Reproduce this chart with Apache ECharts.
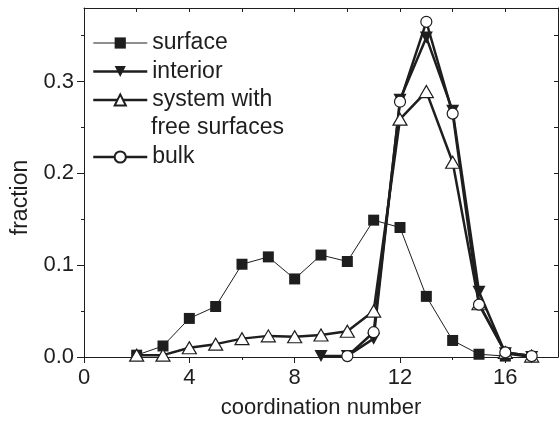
<!DOCTYPE html>
<html>
<head>
<meta charset="utf-8">
<script src="https://cdn.jsdelivr.net/npm/echarts@6/dist/echarts.min.js"></script>
<style>
html,body{margin:0;padding:0;background:#fff;}
#chart{width:559px;height:424px;}
</style>
</head>
<body>
<div id="chart"></div>
<script>
// ---- data ----
const surfaceX = [2, 3, 4, 5, 6, 7, 8, 9, 10, 11, 12, 13, 14, 15, 16];
const surfaceY = [0.002, 0.012, 0.042, 0.055, 0.101, 0.109, 0.085, 0.111, 0.104, 0.149, 0.141, 0.066, 0.018, 0.003, 0.001];
const interiorX = [9, 10, 11, 12, 13, 14, 15, 16, 17];
const interiorY = [0.001, 0.001, 0.020, 0.280, 0.348, 0.268, 0.071, 0.004, 0.000];
const systemX = [2, 3, 4, 5, 6, 7, 8, 9, 10, 11, 12, 13, 14, 15, 16, 17];
const systemY = [0.002, 0.002, 0.010, 0.014, 0.020, 0.023, 0.022, 0.024, 0.028, 0.050, 0.259, 0.289, 0.212, 0.058, 0.005, 0.001];
const bulkX = [10, 11, 12, 13, 14, 15, 16, 17];
const bulkY = [0.001, 0.027, 0.278, 0.365, 0.265, 0.057, 0.005, 0.001];

const xMajorTicks = [0, 4, 8, 12, 16];
const xMinorTicks = [2, 6, 10, 14];
const xTopTicks = [2, 4, 6, 8, 10, 12, 14, 16];
const yMajorTicks = [0, 0.1, 0.2, 0.3];
const yMinorTicks = [0.05, 0.15, 0.25, 0.35];
const yRightTicks = [0.05, 0.1, 0.15, 0.2, 0.25, 0.3, 0.35];
const seriesNames = ['surface', 'interior', 'system with free surfaces', 'bulk'];

const zip = (xs, ys) => xs.map((x, i) => [x, ys[i]]);
const INK = '#1e1e1e';
const FONT = 'Liberation Sans, Arial, sans-serif';

const chart = echarts.init(document.getElementById('chart'), null, {renderer: 'canvas'});

const baseAxis = {
  type: 'value',
  splitLine: {show: false},
  axisLine: {show: true, onZero: false, lineStyle: {color: INK, width: 1}}
};

const option = {
  animation: false,
  backgroundColor: '#fff',
  textStyle: {fontFamily: FONT, color: INK},
  grid: {left: 84, right: 1, top: 8, bottom: 66, containLabel: false},
  xAxis: [
    Object.assign({}, baseAxis, {
      min: 0, max: 18, position: 'bottom',
      axisTick: {show: true, inside: false, length: 6, customValues: xMajorTicks, lineStyle: {color: INK}},
      axisLabel: {show: true, customValues: xMajorTicks, fontSize: 22, color: INK, margin: 10, fontFamily: FONT},
      name: 'coordination number', nameLocation: 'middle', nameGap: 40,
      nameTextStyle: {fontSize: 22, color: INK, fontFamily: FONT}
    }),
    Object.assign({}, baseAxis, {
      min: 0, max: 18, position: 'bottom',
      axisLine: {show: false},
      axisTick: {show: true, inside: false, length: 3, customValues: xMinorTicks, lineStyle: {color: INK}},
      axisLabel: {show: false}
    }),
    Object.assign({}, baseAxis, {
      min: 0, max: 18, position: 'top',
      axisTick: {show: true, inside: true, length: 4, customValues: xTopTicks, lineStyle: {color: INK}},
      axisLabel: {show: false}
    })
  ],
  yAxis: [
    Object.assign({}, baseAxis, {
      min: 0, max: 0.38, position: 'left',
      axisTick: {show: true, inside: false, length: 7, customValues: yMajorTicks, lineStyle: {color: INK}},
      axisLabel: {show: true, customValues: yMajorTicks, fontSize: 22, color: INK, margin: 10, fontFamily: FONT,
        formatter: v => v.toFixed(1)},
      name: 'fraction', nameLocation: 'middle', nameGap: 44,
      nameTextStyle: {fontSize: 23, color: INK, fontFamily: FONT, padding: [0, 30, 0, 0]}
    }),
    Object.assign({}, baseAxis, {
      min: 0, max: 0.38, position: 'left',
      axisLine: {show: false},
      axisTick: {show: true, inside: false, length: 3, customValues: yMinorTicks, lineStyle: {color: INK}},
      axisLabel: {show: false}
    }),
    Object.assign({}, baseAxis, {
      min: 0, max: 0.38, position: 'right',
      axisTick: {show: true, inside: true, length: 4, customValues: yRightTicks, lineStyle: {color: INK}},
      axisLabel: {show: false}
    })
  ],
  legend: [
    {
      orient: 'vertical', left: 92, top: 29, padding: 0,
      itemWidth: 54, itemHeight: 14, itemGap: 0.5,
      textStyle: {fontSize: 23, color: INK, fontFamily: FONT, lineHeight: 28},
      formatter: n => n === 'system with free surfaces' ? 'system with' : n,
      data: [
        {name: 'surface', lineStyle: {width: 1}},
        {name: 'interior', lineStyle: {width: 2.5}},
        {name: 'system with free surfaces', lineStyle: {width: 2.5}}
      ],
      selectedMode: false
    },
    {
      orient: 'vertical', left: 92, top: 143, padding: 0,
      itemWidth: 54, itemHeight: 14, itemGap: 0,
      textStyle: {fontSize: 23, color: INK, fontFamily: FONT, lineHeight: 28},
      data: [{name: 'bulk', lineStyle: {width: 2.5}}],
      selectedMode: false
    }
  ],
  graphic: [
    {type: 'text', x: 151, y: 128,
     style: {text: 'free surfaces', font: '23px ' + FONT, fill: INK, verticalAlign: 'middle', align: 'left'}}
  ],
  series: [
    {
      name: seriesNames[0], type: 'line', data: zip(surfaceX, surfaceY),
      symbol: 'rect', symbolSize: 11,
      lineStyle: {color: INK, width: 1},
      itemStyle: {color: INK}
    },
    {
      name: seriesNames[1], type: 'line', data: zip(interiorX, interiorY),
      symbol: 'triangle', symbolRotate: 180, symbolSize: [13, 12],
      lineStyle: {color: INK, width: 2.5},
      itemStyle: {color: INK}
    },
    {
      name: seriesNames[2], type: 'line', data: zip(systemX, systemY),
      symbol: 'triangle', symbolSize: [14, 12],
      lineStyle: {color: INK, width: 2.5},
      itemStyle: {color: '#fff', borderColor: INK, borderWidth: 1.2}
    },
    {
      name: seriesNames[3], type: 'line', data: zip(bulkX, bulkY),
      symbol: 'circle', symbolSize: 11,
      lineStyle: {color: INK, width: 2.5},
      itemStyle: {color: '#fff', borderColor: INK, borderWidth: 1.2}
    }
  ]
};
chart.setOption(option);
</script>
</body>
</html>
